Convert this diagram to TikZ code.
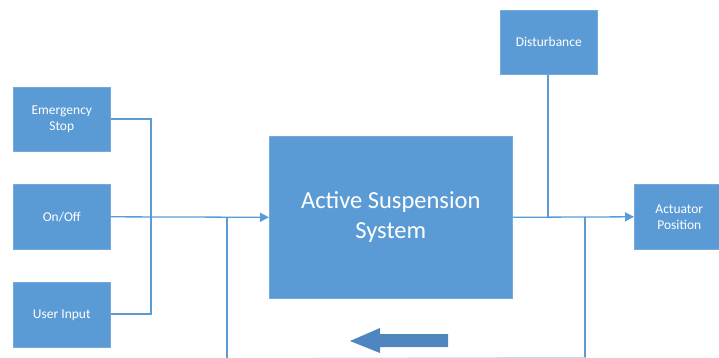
\documentclass[tikz,border=0pt]{standalone}
\usepackage{fontspec}
\setmainfont{Carlito}
\usetikzlibrary{arrows.meta}
\definecolor{boxblue}{HTML}{5B9BD5}
\definecolor{arrowblue}{HTML}{4F86C0}
\begin{document}
\begin{tikzpicture}[x=1pt,y=-1pt,
  blk/.style={fill=boxblue,draw=boxblue!85!white,line width=0.6pt,text=white,align=center,inner sep=0pt,anchor=north west},
  small/.style={font=\fontsize{13.5}{16}\selectfont},
  conn/.style={draw=boxblue,line width=1.3pt},
  faint/.style={draw=boxblue!35!white,line width=1pt},
  tip/.style={-{Triangle[length=9pt,width=9pt]}}]
\useasboundingbox (0,0) rectangle (719,358);
\node[blk,small,minimum width=97pt,minimum height=64pt] (es) at (13,87) {Emergency\\Stop};
\node[blk,small,minimum width=97pt,minimum height=65pt] (onoff) at (13,184) {On/Off};
\node[blk,small,minimum width=97pt,minimum height=65pt] (ui) at (13,282) {User Input};
\node[blk,minimum width=243pt,minimum height=162pt,font=\fontsize{24.5}{30}\selectfont] (ass) at (269,136) {Active Suspension\\System};
\node[blk,small,minimum width=97pt,minimum height=64pt] (dist) at (500,10) {Disturbance};
\node[blk,small,minimum width=90pt,minimum height=65pt] (act) at (634,184) {Actuator\\Position};
\coordinate (bus) at (151,217);
\coordinate (fbl) at (227,217);
\coordinate (dj) at (548,217);
\coordinate (fbr) at (585,217);
\coordinate (fbrb) at (585,358);
\coordinate (fblb) at (227,358);
\draw[conn] (es.east |- 0,119) -- (151,119) -- (151,314) -- (ui.east |- 0,314);
\draw[conn,tip] (onoff.east) -- (ass.west);
\draw[conn,tip] (ass.east) -- (act.west);
\draw[conn] (dist.south -| dj) -- (dj);
\draw[conn] (fbr) -- (fbrb);
\draw[conn] (fblb) -- (fbl);
\draw[faint] (fbrb) ++(0,-0.5) -- ([yshift=-0.5pt]fblb);
\fill[arrowblue] (350,341) -- (380,328) -- (380,334) -- (448,334) -- (448,347) -- (380,347) -- (380,353) -- cycle;
\end{tikzpicture}
\end{document}
